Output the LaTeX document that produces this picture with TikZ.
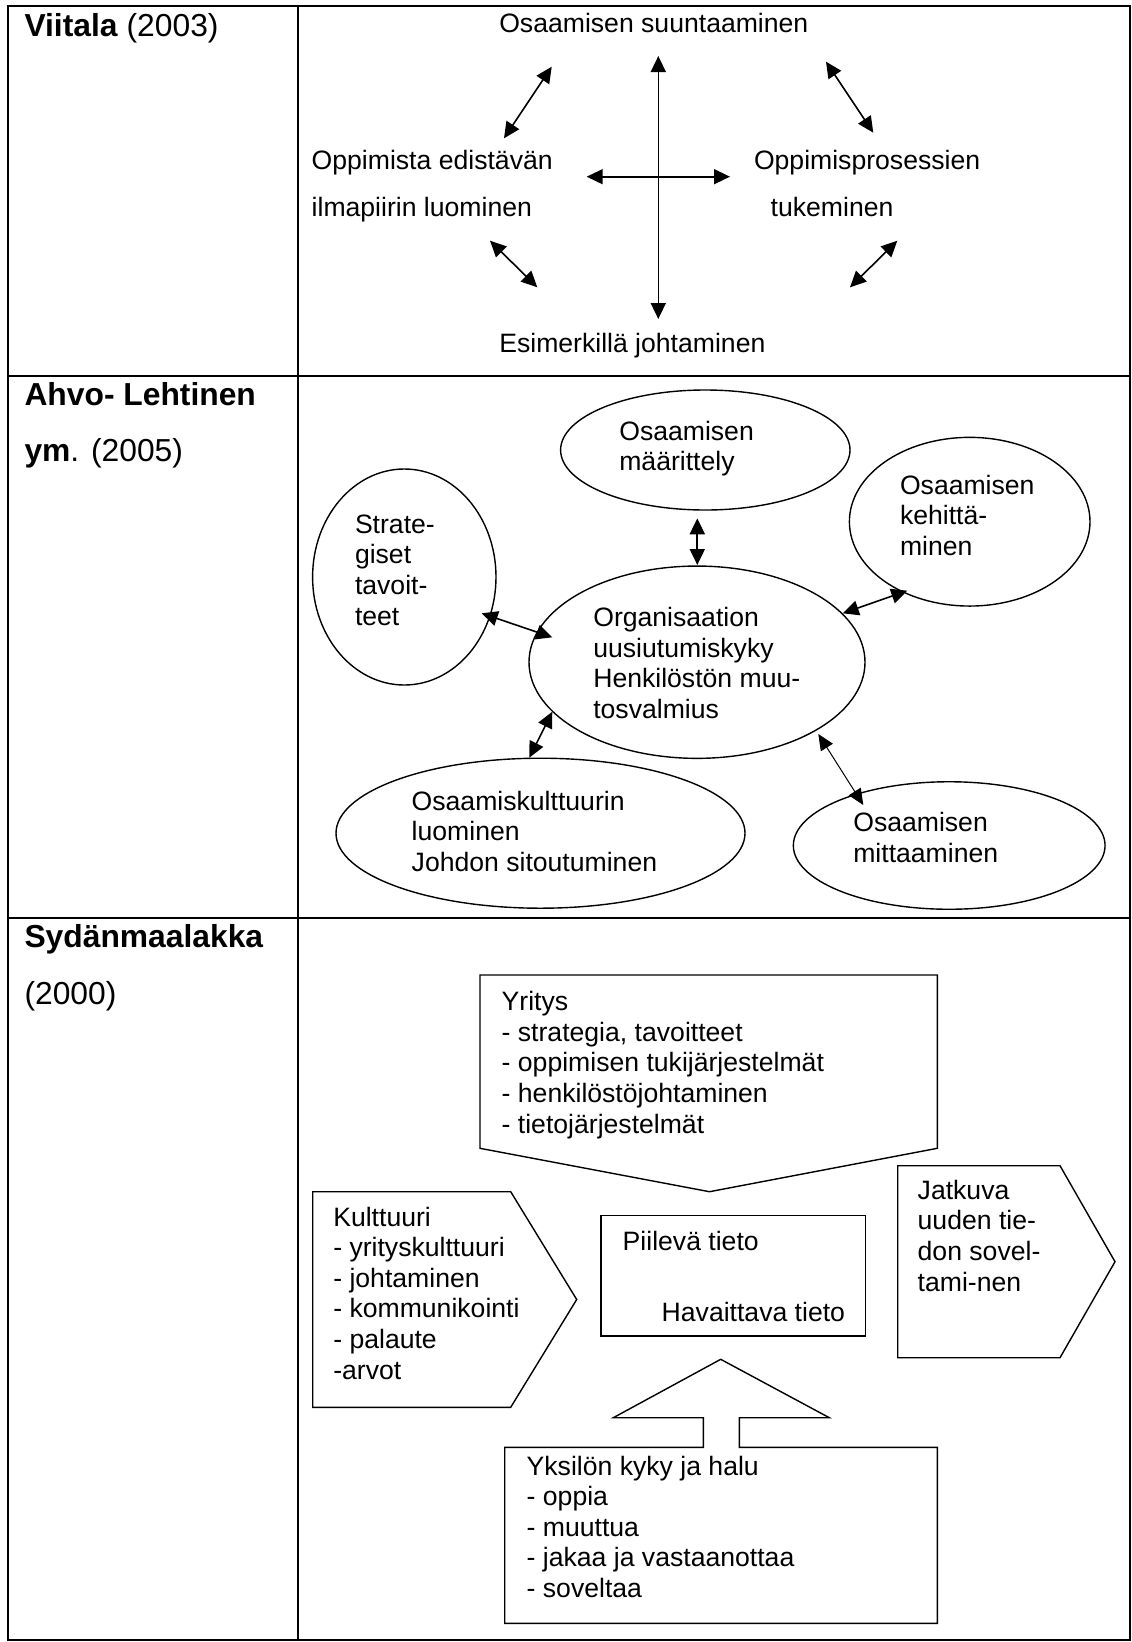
\documentclass[tikz,border=0pt]{standalone}
\usepackage{fontspec}
\setmainfont{Liberation Sans}
\usetikzlibrary{arrows.meta,shapes.geometric}
\newcommand{\mlines}[1]{\begin{tabular}[t]{@{}l@{}}#1\end{tabular}}
\begin{document}
\begin{tikzpicture}[x=1pt,y=-1pt,
  txt/.style={anchor=base west, inner sep=0pt, outer sep=0pt, font=\fontsize{26.6}{30.6}\selectfont},
  hdr/.style={anchor=base west, inner sep=0pt, outer sep=0pt, font=\fontsize{31.8}{36}\selectfont},
  gridline/.style={line width=2pt},
  biarrow/.style={line width=1.6pt, {Triangle[length=16pt,width=15pt]}-{Triangle[length=16pt,width=15pt]}},
  thinarrow/.style={line width=1pt, {Triangle[length=16pt,width=14pt]}-{Triangle[length=16pt,width=14pt]}},
  ell/.style={draw, ellipse, line width=1.4pt, inner sep=0pt, outer sep=0pt},
  shp/.style={draw, line width=1.4pt, line join=miter}
]
\useasboundingbox (0,0) rectangle (1132,1642);

% table
\draw[gridline] (8,6) rectangle (1130,1640);
\draw[gridline] (297.5,6) -- (297.5,1640);
\draw[gridline] (8,376) -- (1130,376);
\draw[gridline] (8,918) -- (1130,918);

% first column
\node[hdr] (h1) at (24.5,36) {\textbf{Viitala} (2003)};
\node[hdr] (h2a) at (24.5,405) {\textbf{Ahvo- Lehtinen}};
\node[hdr] (h2b) at (24.5,461) {\textbf{ym}. (2005)};
\node[hdr] (h3a) at (24.5,947) {\textbf{Sydänmaalakka}};
\node[hdr] (h3b) at (24.5,1004) {(2000)};

% ---------- row 1 ----------
\node[txt] (suunt) at (499.3,32.3) {Osaamisen suuntaaminen};
\node[txt] (opp1) at (311.7,169.5) {Oppimista edistävän};
\node[txt] (opp2) at (311.7,216) {ilmapiirin luominen};
\node[txt] (pros1) at (754,169.5) {Oppimisprosessien};
\node[txt] (pros2) at (770.7,216) {tukeminen};
\node[txt] (esim) at (499.3,352.7) {Esimerkillä johtaminen};

\coordinate (vt) at (658.3,56);
\coordinate (vb) at (658.3,319);
\coordinate (hl) at (586.7,176.7);
\coordinate (hr) at (730,176.7);
\coordinate (ula) at (551.7,66.7);
\coordinate (ulb) at (504,138.3);
\coordinate (lla) at (490,240.7);
\coordinate (llb) at (537.3,287.3);
\coordinate (ura) at (826,61.7);
\coordinate (urb) at (873.3,132.7);
\coordinate (lra) at (897.3,240.7);
\coordinate (lrb) at (850,287.3);
\draw[biarrow] (vt) -- (vb);
\draw[biarrow] (hl) -- (hr);
\draw[biarrow] (ula) -- (ulb);
\draw[biarrow] (lla) -- (llb);
\draw[biarrow] (ura) -- (urb);
\draw[biarrow] (lra) -- (lrb);

% ---------- row 2 ----------
\node[ell, minimum width=289.4pt, minimum height=120pt] (maar) at (705.3,450) {};
\node[ell, minimum width=183.4pt, minimum height=216pt] (strat) at (404.3,577) {};
\node[ell, minimum width=336pt, minimum height=192.3pt] (org) at (697,662.2) {};
\node[ell, minimum width=409pt, minimum height=150pt] (kult) at (540.5,833.2) {};
\node[ell, minimum width=240.6pt, minimum height=168.7pt] (keh) at (969.7,521.7) {};
\node[ell, minimum width=311.7pt, minimum height=127.5pt] (mitt) at (949.2,845.5) {};

\node[txt] (tmaar) at (619.3,440) {\mlines{Osaamisen\\määrittely}};
\node[txt] (tstrat) at (355,533.3) {\mlines{Strate-\\giset\\tavoit-\\teet}};
\node[txt] (torg) at (593.3,626.7) {\mlines{Organisaation\\uusiutumiskyky\\Henkilöstön muu-\\tosvalmius}};
\node[txt] (tkult) at (411.7,810) {\mlines{Osaamiskulttuurin\\luominen\\Johdon sitoutuminen}};
\node[txt] (tkeh) at (900,494) {\mlines{Osaamisen\\kehittä-\\minen}};
\node[txt] (tmitt) at (853.3,831.7) {\mlines{Osaamisen\\mittaaminen}};

\coordinate (ma) at (697.3,518.3);
\coordinate (mb) at (697.3,565);
\coordinate (sa) at (481.7,613.3);
\coordinate (sb) at (552.3,637.3);
\coordinate (ka) at (552.3,711.7);
\coordinate (kb) at (529.3,757.7);
\coordinate (ea) at (842.7,613.3);
\coordinate (eb) at (907.3,590.7);
\coordinate (ta) at (818.3,734);
\coordinate (tb) at (863.3,805);
\draw[biarrow, line width=2pt] (ma) -- (mb);
\draw[biarrow] (sa) -- (sb);
\draw[biarrow] (ka) -- (kb);
\draw[biarrow] (ea) -- (eb);
\draw[thinarrow] (ta) -- (tb);

% ---------- row 3 ----------
\draw[shp] (480,975) -- (937.3,975) -- (937.3,1148.3) -- (709.5,1191.7) -- (480,1148.3) -- cycle;
\draw[shp] (312.7,1191.7) -- (510.7,1191.7) -- (576.7,1299.5) -- (510.7,1407.3) -- (312.7,1407.3) -- cycle;
\draw[shp] (601,1215.7) rectangle (865.7,1336);
\draw[shp] (897.7,1165.7) -- (1060,1165.7) -- (1115,1261.7) -- (1060,1357.7) -- (897.7,1357.7) -- cycle;
\draw[shp] (504.7,1447.3) -- (703.3,1447.3) -- (703.3,1417.7) -- (613.3,1417.7) -- (720.7,1359.3) -- (829.3,1417.7) -- (739.3,1417.7) -- (739.3,1447.3) -- (937.3,1447.3) -- (937.3,1623.3) -- (504.7,1623.3) -- cycle;

\node[txt] (tyrit) at (501.7,1010.7) {\mlines{Yritys\\- strategia, tavoitteet\\- oppimisen tukijärjestelmät\\- henkilöstöjohtaminen\\- tietojärjestelmät}};
\node[txt] (tkultt) at (333.3,1226) {\mlines{Kulttuuri\\- yrityskulttuuri\\- johtaminen\\- kommunikointi\\- palaute\\-arvot}};
\node[txt] (tpiil) at (622.7,1250) {Piilevä tieto};
\node[txt] (thav) at (661.7,1321.7) {Havaittava tieto};
\node[txt] (tjatk) at (917.7,1199.3) {\mlines{Jatkuva\\uuden tie-\\don sovel-\\tami-nen}};
\node[txt] (tyks) at (526.7,1475) {\mlines{Yksilön kyky ja halu\\- oppia\\- muuttua\\- jakaa ja vastaanottaa\\- soveltaa}};
\end{tikzpicture}
\end{document}
